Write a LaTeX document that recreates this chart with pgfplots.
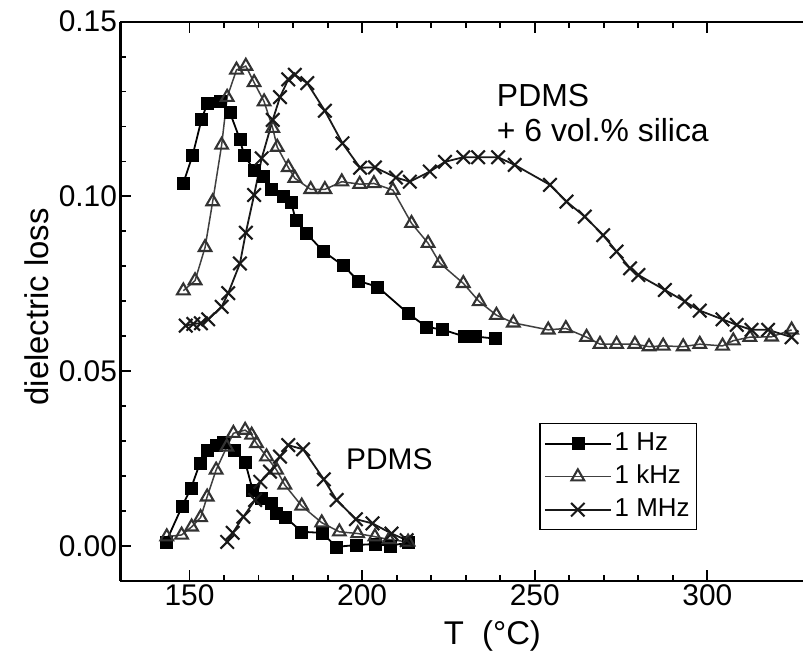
\documentclass[border=0pt]{standalone}
\usepackage{fontspec}
\setmainfont{Liberation Sans}
\usepackage{pgfplots}
\pgfplotsset{compat=1.18}

% PDMS + 6 vol.% silica
\pgfplotstableread{
T L
148.2 0.1038
150.9 0.1118
153.5 0.1221
155.2 0.1267
159.0 0.1271
161.7 0.1240
164.6 0.1163
165.8 0.1118
168.7 0.1076
171.4 0.1059
173.6 0.1020
177.2 0.1001
179.4 0.0983
180.8 0.0932
183.9 0.0894
188.7 0.0843
194.5 0.0802
198.9 0.0758
204.5 0.0741
213.3 0.0665
218.7 0.0626
223.2 0.0619
229.6 0.0599
232.7 0.0599
238.5 0.0593
}\silHz
\pgfplotstableread{
T L
148.2 0.0730
151.6 0.0759
154.5 0.0854
156.7 0.0985
159.3 0.1147
160.9 0.1284
163.6 0.1362
166.3 0.1373
168.7 0.1326
171.6 0.1271
174.1 0.1195
175.4 0.1141
178.6 0.1083
180.5 0.1052
185.1 0.1020
189.2 0.1020
194.1 0.1042
199.3 0.1035
203.4 0.1037
208.9 0.1018
214.3 0.0923
219.1 0.0866
222.5 0.0809
229.3 0.0751
233.9 0.0699
238.9 0.0660
243.8 0.0638
253.9 0.0618
259.0 0.0622
265.0 0.0597
268.9 0.0577
273.7 0.0577
279.0 0.0577
283.1 0.0570
287.2 0.0572
293.0 0.0570
297.8 0.0577
304.4 0.0572
307.5 0.0587
312.3 0.0597
318.6 0.0598
324.4 0.0618
}\silkHz
\pgfplotstableread{
T L
148.9 0.0630
151.1 0.0635
153.3 0.0637
155.4 0.0648
159.3 0.0684
161.2 0.0723
164.6 0.0808
166.3 0.0896
168.7 0.1004
170.9 0.1109
174.1 0.1219
176.2 0.1284
178.6 0.1335
180.5 0.1348
184.1 0.1324
189.2 0.1245
194.3 0.1152
199.4 0.1082
203.7 0.1083
209.8 0.1054
213.8 0.1042
219.6 0.1071
224.0 0.1099
229.3 0.1112
233.6 0.1112
239.4 0.1112
244.2 0.1090
254.4 0.1033
259.2 0.0985
264.5 0.0942
269.8 0.0889
273.7 0.0842
277.6 0.0794
280.0 0.0775
287.7 0.0732
293.5 0.0699
297.8 0.0673
304.4 0.0648
308.5 0.0632
312.8 0.0618
317.6 0.0618
324.4 0.0597
}\silMHz

% pure PDMS
\pgfplotstableread{
T L
143.2 0.0011
147.9 0.0114
150.4 0.0164
153.0 0.0236
155.1 0.0274
157.7 0.0288
159.8 0.0295
162.9 0.0274
166.1 0.0240
168.3 0.0159
170.9 0.0136
173.8 0.0123
175.2 0.0093
177.6 0.0083
182.5 0.0040
188.3 0.0037
192.6 -0.0003
198.2 0.0002
203.7 0.0005
208.0 0.0000
213.3 0.0009
}\pdHz
\pgfplotstableread{
T L
143.4 0.0026
147.7 0.0031
150.6 0.0054
153.2 0.0081
155.1 0.0140
157.7 0.0217
160.8 0.0283
162.7 0.0322
166.1 0.0331
168.0 0.0317
169.4 0.0293
172.3 0.0255
175.2 0.0217
177.6 0.0174
182.5 0.0114
188.3 0.0066
193.4 0.0040
198.7 0.0035
203.7 0.0026
207.8 0.0018
213.3 0.0011
}\pdkHz
\pgfplotstableread{
T L
160.9 0.0011
162.5 0.0037
165.6 0.0083
169.0 0.0131
170.5 0.0183
173.3 0.0212
176.2 0.0255
178.6 0.0288
182.9 0.0276
188.9 0.0190
192.6 0.0131
198.2 0.0076
203.0 0.0064
208.5 0.0035
212.9 0.0016
}\pdMHz

\begin{document}
\begin{tikzpicture}
\begin{axis}[
    scale only axis,
    width=682.5bp, height=559bp,
    xmin=130, xmax=327.7,
    ymin=-0.01, ymax=0.15,
    axis x line*=box,
    axis y line*=left,
    axis line style={line width=2.2bp},
    tick align=inside,
    xtick={150,200,250,300},
    minor x tick num=4,
    ytick={0,0.05,0.1,0.15},
    minor y tick num=4,
    major tick length=11bp,
    minor tick length=6bp,
    every tick/.append style={line width=1.8bp, black},
    /pgf/number format/assume math mode=true,
    scaled y ticks=false,
    yticklabel style={/pgf/number format/fixed,
        /pgf/number format/fixed zerofill,
        /pgf/number format/precision=2},
    ticklabel style={font=\fontsize{30}{30}\selectfont},
    xlabel={T\hspace{0.55em}(°C)},
    ylabel={dielectric loss},
    label style={font=\fontsize{33}{33}\selectfont},
    xlabel style={at={(axis description cs:0.545,-0.1145)}, anchor=base},
    ylabel style={at={(axis description cs:-0.1223,0.49)}, anchor=center},
    legend cell align=left,
    legend style={at={(axis description cs:0.6136,0.2821)}, anchor=north west,
        draw=black, line width=1.3bp, font=\fontsize{26}{26}\selectfont,
        inner xsep=4bp, inner ysep=5bp, row sep=3bp,
        nodes={inner sep=3bp, text height=19bp, text depth=5bp}},
    legend image code/.code={%
        \draw[mark repeat=2,mark phase=2] plot coordinates {(0bp,0bp) (33bp,0bp) (66bp,0bp)};},
    hzstyle/.style={black, line width=1.8bp, mark=square*, mark size=6bp,
        mark options={solid, fill=black, line width=0.5bp}},
    khzstyle/.style={black!75, line width=1.5bp, mark=triangle, mark size=7.3bp,
        mark options={solid, draw=black!80, fill=white, line width=2.1bp}},
    mhzstyle/.style={black!90, line width=1.8bp, mark=x, mark size=9.5bp,
        mark options={solid, line width=2.1bp}},
]
\addplot[hzstyle] table[x=T, y=L] {\silHz};
\addplot[khzstyle] table[x=T, y=L] {\silkHz};
\addplot[mhzstyle] table[x=T, y=L] {\silMHz};
\addplot[hzstyle, forget plot] table[x=T, y=L] {\pdHz};
\addplot[khzstyle, forget plot] table[x=T, y=L] {\pdkHz};
\addplot[mhzstyle, forget plot] table[x=T, y=L] {\pdMHz};
\legend{1 Hz, 1 kHz, 1 MHz}

\node[anchor=base west, font=\fontsize{32}{32}\selectfont, inner sep=0pt]
    at (axis cs:239,0.1257) {PDMS};
\node[anchor=base west, font=\fontsize{32}{32}\selectfont, inner sep=0pt]
    at (axis cs:239,0.1157) {+ 6 vol.\% silica};
\node[anchor=base west, font=\fontsize{30}{30}\selectfont, inner sep=0pt]
    at (axis cs:195.3,0.0217) {PDMS};
\end{axis}
\pgfresetboundingbox
\path[use as bounding box] ([shift={(-120.5bp,-80.3bp)}]current axis.south west)
    rectangle ([shift={(0bp,21.7bp)}]current axis.north east);
\end{tikzpicture}
\end{document}
